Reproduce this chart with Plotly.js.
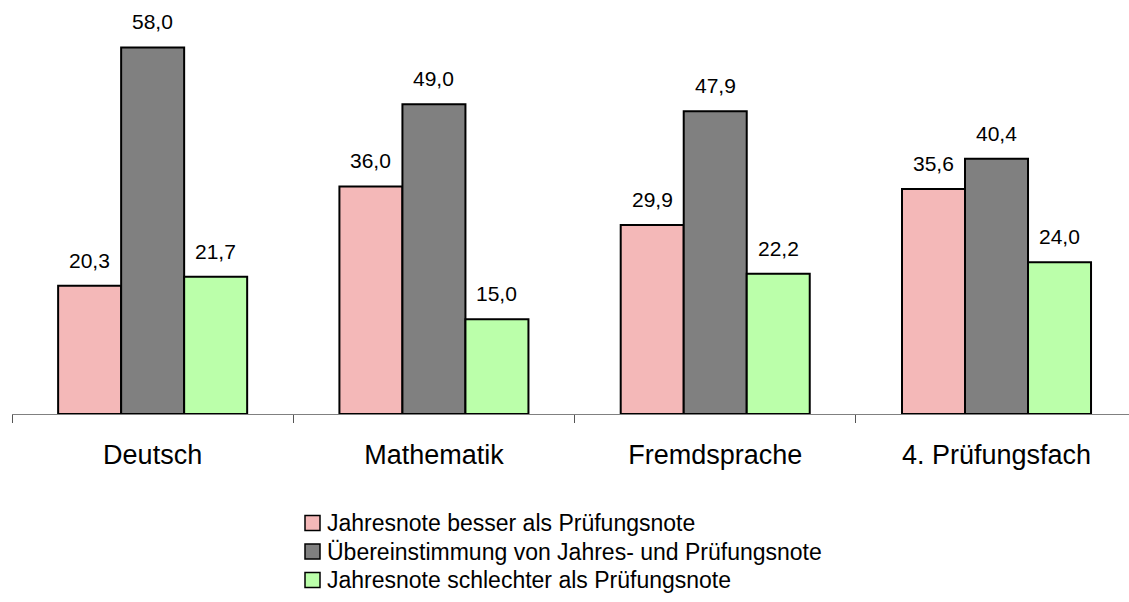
<!DOCTYPE html>
<html>
<head>
<meta charset="utf-8">
<script src="https://cdn.plot.ly/plotly-3.0.1.min.js"></script>
<style>html,body{margin:0;padding:0;background:#fff}#chart{width:1129px;height:602px}</style>
</head>
<body>
<div id="chart"></div>
<script>
const categories = ["Deutsch", "Mathematik", "Fremdsprache", "4. Prüfungsfach"];
const seriesNames = [
  "Jahresnote besser als Prüfungsnote",
  "Übereinstimmung von Jahres- und Prüfungsnote",
  "Jahresnote schlechter als Prüfungsnote"
];
const besser = [20.3, 36.0, 29.9, 35.6];
const gleich = [58.0, 49.0, 47.9, 40.4];
const schlechter = [21.7, 15.0, 22.2, 24.0];
const colors = ["#F4B8B8", "#808080", "#BBFFAA"];

const series = [besser, gleich, schlechter];
const idx = categories.map((_, i) => i);
const FONT = "Liberation Sans, Arial, sans-serif";
const bargap = 0.328;
const barW = (1 - bargap) / series.length;

// plot-area geometry (pixels) used to place the hand-drawn legend
const W = 1129, H = 602, ML = 12, MB = 188;
const PW = W - ML, PH = H - MB;
const px2x = p => (p - ML) / PW;
const py2y = p => (PH - p) / PH;

const traces = series.map((vals, k) => ({
  type: "bar",
  name: seriesNames[k],
  x: idx,
  y: vals,
  marker: {color: colors[k], line: {color: "#000", width: 2}},
  hoverinfo: "skip",
  showlegend: false
}));

const annotations = [];
const shapes = [];
series.forEach((vals, k) => {
  vals.forEach((v, i) => {
    annotations.push({
      x: idx[i] + (k - 1) * barW,
      y: v,
      xref: "x", yref: "y",
      text: v.toFixed(1).replace(".", ","),
      showarrow: false,
      yanchor: "bottom",
      yshift: 12,
      font: {family: FONT, size: 21, color: "#000"}
    });
  });
});

// legend (rows below the chart)
const legendRowY = [523, 551.5, 580];
seriesNames.forEach((name, k) => {
  const cy = py2y(legendRowY[k]);
  shapes.push({
    type: "rect", xref: "paper", yref: "paper",
    xsizemode: "pixel", ysizemode: "pixel",
    xanchor: px2x(312.5), yanchor: cy,
    x0: -7.5, x1: 7.5, y0: -7.5, y1: 7.5,
    fillcolor: colors[k], line: {color: "#000", width: 1.5}
  });
  annotations.push({
    x: px2x(325), y: cy, xref: "paper", yref: "paper",
    xanchor: "left", yanchor: "middle",
    text: name, showarrow: false,
    font: {family: FONT, size: 23, color: "#000"}
  });
});

const layout = {
  width: W, height: H,
  margin: {l: ML, r: 0, t: 0, b: MB, autoexpand: false},
  paper_bgcolor: "#fff", plot_bgcolor: "#fff",
  barmode: "group",
  bargap: bargap,
  bargroupgap: 0,
  showlegend: false,
  xaxis: {
    type: "linear",
    range: [-0.5, 3.471],
    tickmode: "array", tickvals: idx, ticktext: categories,
    tickangle: 0,
    showline: true, linecolor: "#808080", linewidth: 1,
    ticks: "", ticklabelstandoff: 17,
    minor: {tickmode: "linear", tick0: -0.5, dtick: 1, ticks: "outside", ticklen: 8, tickcolor: "#555", tickwidth: 1, showgrid: false},
    tickfont: {family: FONT, size: 27, color: "#000"},
    showgrid: false, zeroline: false, fixedrange: true
  },
  yaxis: {
    range: [0, 65.5],
    visible: false, showgrid: false, zeroline: false, fixedrange: true
  },
  shapes: shapes,
  annotations: annotations
};

Plotly.newPlot("chart", traces, layout, {staticPlot: true, displayModeBar: false});
</script>
</body>
</html>
